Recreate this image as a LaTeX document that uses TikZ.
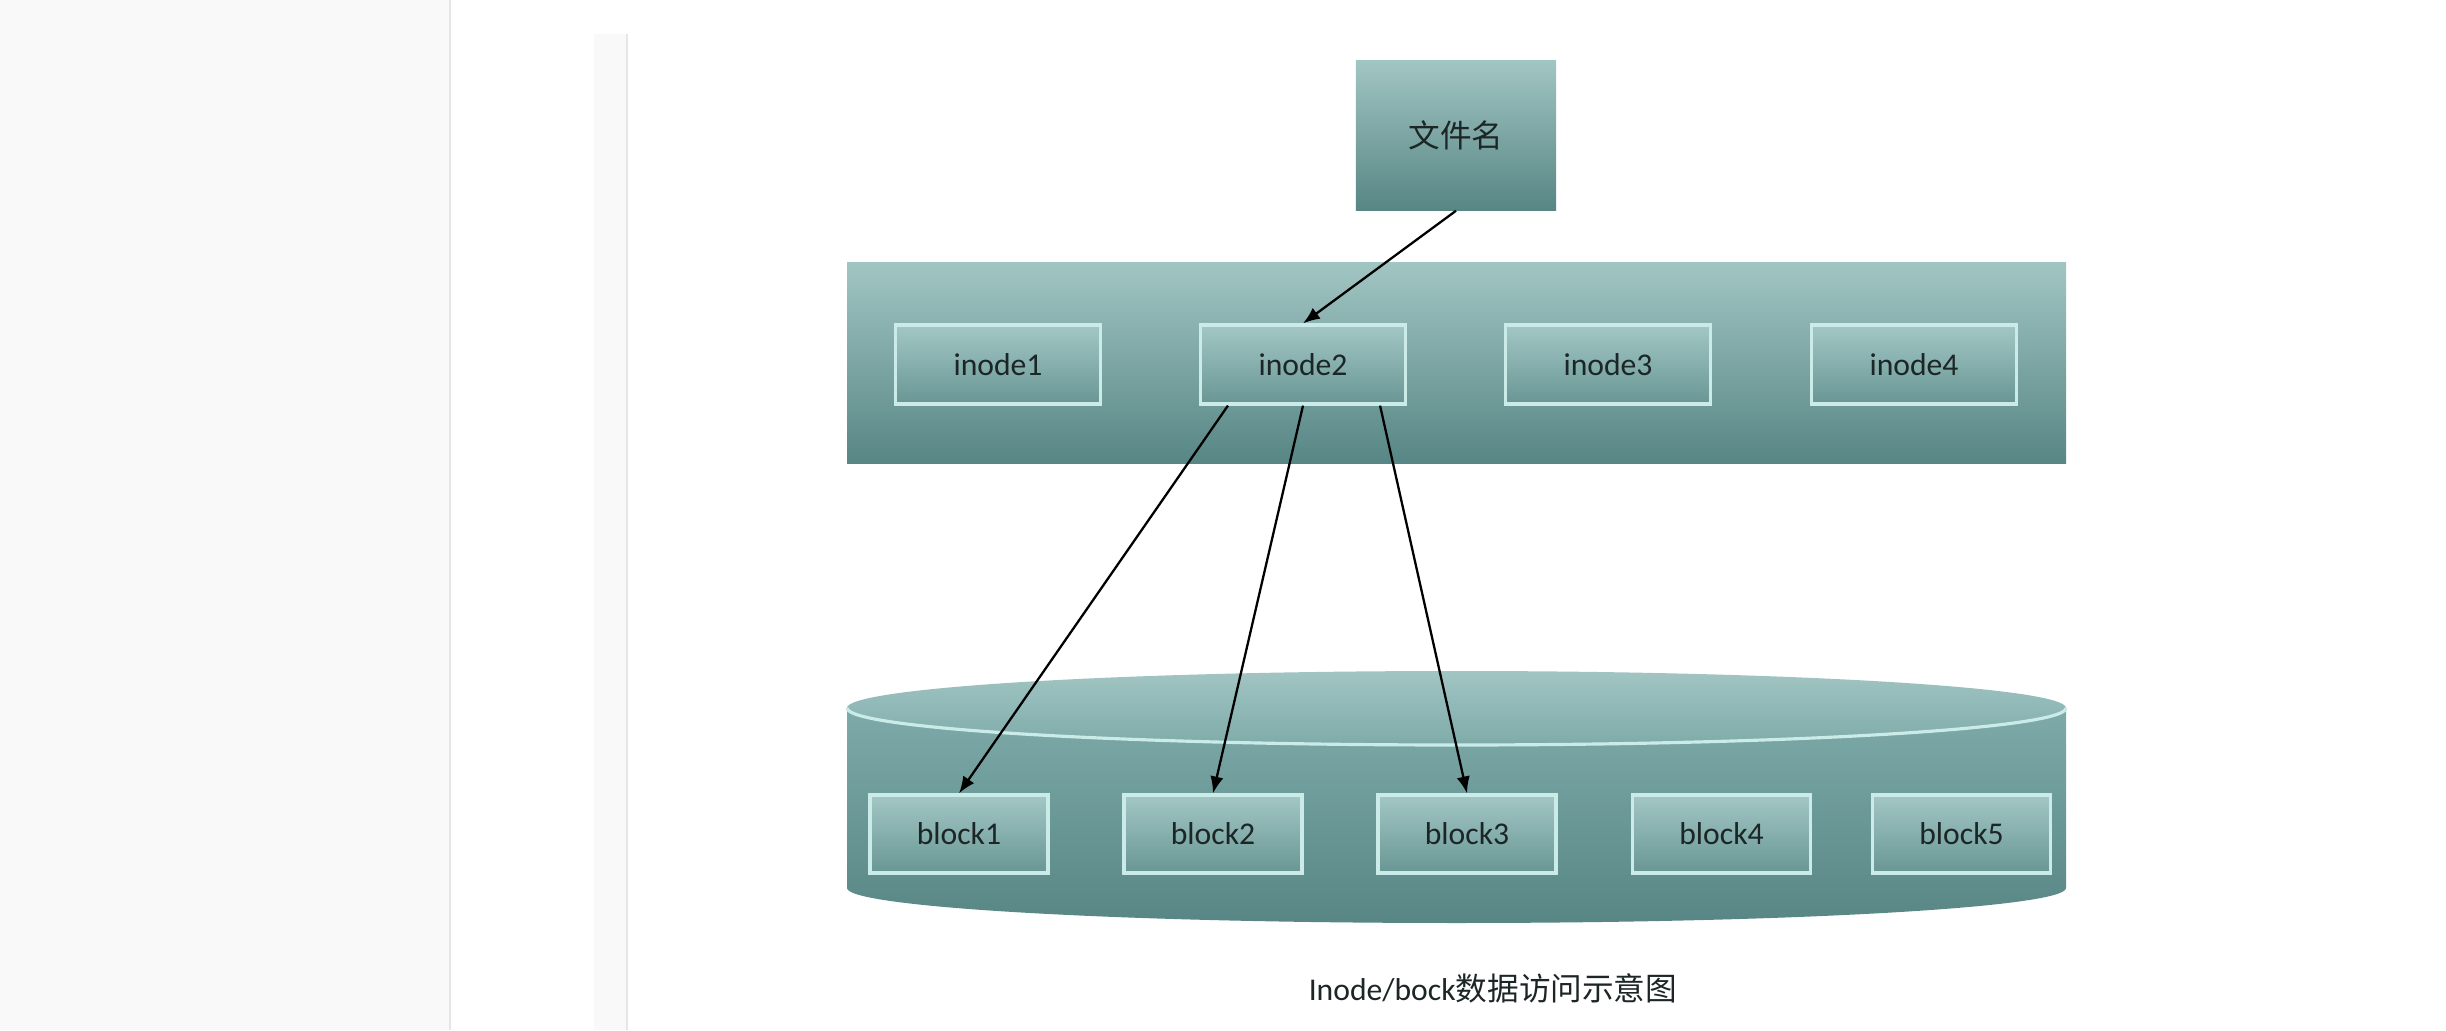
\documentclass[tikz,border=0pt]{standalone}
\usepackage{fontspec}
\setmainfont{Carlito}
\newfontfamily\cjk{Noto Sans CJK SC}
\usepackage{xcolor}
\definecolor{page-grey}{HTML}{F9F9F9}
\definecolor{page-line}{HTML}{E6E6E6}
\definecolor{teal-light}{HTML}{A1C5C3}
\definecolor{teal-mid}{HTML}{7EABA9}
\definecolor{teal-dark}{HTML}{578684}
\definecolor{cell-light}{HTML}{A3C7C5}
\definecolor{cell-dark}{HTML}{689694}
\definecolor{box-line}{HTML}{CBEBE9}
\definecolor{ink}{HTML}{1C2626}
\usepackage{tikz}
\usetikzlibrary{arrows.meta}

\tikzset{
  cell/.style={draw=box-line, line width=0.9pt, top color=cell-light, bottom color=cell-dark,
    text=ink, font=\fontsize{9pt}{11pt}\selectfont, inner sep=0pt},
  inodecell/.style={cell, minimum width=2.05cm, minimum height=0.79cm},
  blockcell/.style={cell, minimum width=1.78cm, minimum height=0.78cm},
  filebox/.style={top color=teal-light, bottom color=teal-dark, text=ink,
    minimum width=2cm, minimum height=1.49cm, font=\fontsize{9pt}{11pt}\selectfont\cjk},
  link/.style={-{Latex[length=4.8pt,width=3.8pt]}, line width=0.65pt, draw=black}
}

\begin{document}
\begin{tikzpicture}[x=0.01cm, y=0.01cm]

    % Page
    \useasboundingbox (0, 0) rectangle (2446, 1030);
    \fill[white] (0, 0) rectangle (2446, 1030);
    \fill[page-grey] (0, 0) rectangle (449, 1030);
    \fill[page-line] (449, 0) rectangle (451, 1030);
    \fill[page-grey] (594, 0) rectangle (626, 996);
    \fill[page-line] (626, 0) rectangle (628, 996);

    % File name
    \node[filebox] (file) at (1456, 894.5) {文件名};

    % Inode table
    \shade[top color=teal-light, bottom color=teal-dark] (847, 566) rectangle (2066, 767);
    \node[inodecell] (inode1) at (998, 665.5) {inode1};
    \node[inodecell] (inode2) at (1303, 665.5) {inode2};
    \node[inodecell] (inode3) at (1608, 665.5) {inode3};
    \node[inodecell] (inode4) at (1914, 665.5) {inode4};

    % Disk
    \shade[top color=teal-mid, bottom color=teal-dark] (847, 322) -- (847, 142)
        arc[start angle=180, end angle=360, x radius=609.5, y radius=35] -- (2066, 322) -- cycle;
    \shade[top color=teal-light, bottom color=teal-mid] (1456.5, 322) ellipse[x radius=609.5, y radius=37];
    \draw[box-line, line width=0.9pt] (847, 322) arc[start angle=180, end angle=360, x radius=609.5, y radius=37];
    \node[blockcell] (block1) at (959, 196) {block1};
    \node[blockcell] (block2) at (1213, 196) {block2};
    \node[blockcell] (block3) at (1467, 196) {block3};
    \node[blockcell] (block4) at (1721.5, 196) {block4};
    \node[blockcell] (block5) at (1961.5, 196) {block5};

    % Links
    \draw[link] (file.south) -- (inode2.north);
    \draw[link] ([xshift=-0.75cm]inode2.south) -- (block1.north);
    \draw[link] (inode2.south) -- (block2.north);
    \draw[link] ([xshift=0.77cm]inode2.south) -- (block3.north);

    % Caption
    \node[text=ink, font=\fontsize{9pt}{11pt}\selectfont] (caption) at (1493, 42) {Inode/bock{\cjk 数据访问示意图}};

\end{tikzpicture}
\end{document}
